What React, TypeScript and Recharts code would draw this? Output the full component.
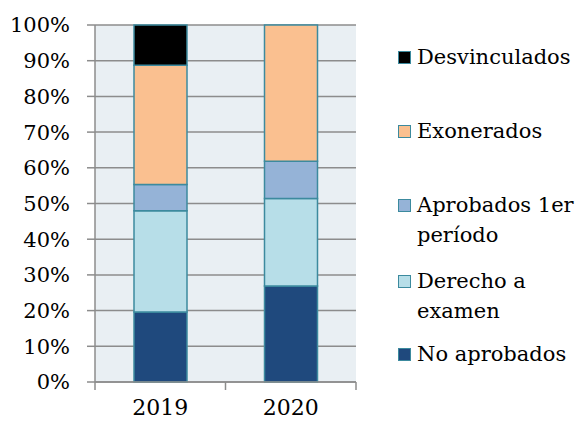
import React from "react";
import {
  BarChart,
  Bar,
  XAxis,
  YAxis,
  CartesianGrid,
} from "recharts";

// Años
const years = ["2019", "2020"];

// Porcentajes por situación (de abajo hacia arriba en la pila)
const noAprobados = [19.6, 26.9];
const derechoExamen = [28.4, 24.5];
const aprobados1er = [7.3, 10.4];
const exonerados = [33.4, 38.2];
const desvinculados = [11.3, 0];

const yTicks = [0, 10, 20, 30, 40, 50, 60, 70, 80, 90, 100];

const series = [
  { key: "noAprobados", name: "No aprobados", color: "#1F497D", values: noAprobados },
  { key: "derecho", name: "Derecho a examen", color: "#B7DEE8", values: derechoExamen },
  { key: "aprobados", name: "Aprobados 1er período", color: "#95B3D7", values: aprobados1er },
  { key: "exonerados", name: "Exonerados", color: "#FAC090", values: exonerados },
  { key: "desvinculados", name: "Desvinculados", color: "#000000", values: desvinculados },
];

const data = years.map((y, i) => {
  const row: any = { name: y };
  series.forEach((s) => {
    row[s.key] = s.values[i];
  });
  return row;
});

const FONT = "'DejaVu Serif', serif";
const BORDER = "#3C8A9E";
const GRID = "#8C8C8C";

const W = 577;
const H = 426;
const margin = { top: 25, right: 221, bottom: 0, left: 0 };
const yAxisWidth = 95;
const xAxisHeight = 44;
const plotWidth = W - margin.left - margin.right - yAxisWidth;
const halfBand = plotWidth / years.length / 2;

// etiquetas del eje X con marcas entre categorías
const YearTick = (props: any) => {
  const { x, y, payload, index } = props;
  return (
    <g>
      {index === 0 && (
        <line x1={x - halfBand} x2={x - halfBand} y1={y - 8} y2={y} stroke={GRID} strokeWidth={1.5} />
      )}
      <line x1={x + halfBand} x2={x + halfBand} y1={y - 8} y2={y} stroke={GRID} strokeWidth={1.5} />
      <text x={x} y={y} dy={25} textAnchor="middle" fill="#000" fontSize={22} fontFamily={FONT}>
        {payload.value}
      </text>
    </g>
  );
};

// leyenda en orden inverso (de arriba hacia abajo)
const legendItems = [
  { name: "Desvinculados", lines: ["Desvinculados"], color: "#000000", top: 42 },
  { name: "Exonerados", lines: ["Exonerados"], color: "#FAC090", top: 116 },
  { name: "Aprobados", lines: ["Aprobados 1er", "período"], color: "#95B3D7", top: 190 },
  { name: "Derecho", lines: ["Derecho a", "examen"], color: "#B7DEE8", top: 266 },
  { name: "No aprobados", lines: ["No aprobados"], color: "#1F497D", top: 339 },
];

const SideLegend = () => (
  <div style={{ position: "absolute", left: 398, top: 0, width: 179, height: H, fontFamily: FONT, fontSize: 21 }}>
    {legendItems.map((it) => (
      <div key={it.name} style={{ position: "absolute", left: 0, top: it.top, display: "flex" }}>
        <div
          style={{
            width: 11,
            height: 11,
            marginTop: 9,
            marginRight: 6,
            background: it.color,
            border: `1.5px solid ${BORDER}`,
            flexShrink: 0,
          }}
        />
        <div style={{ lineHeight: "30px", color: "#000", whiteSpace: "nowrap" }}>
          {it.lines.map((l) => (
            <div key={l}>{l}</div>
          ))}
        </div>
      </div>
    ))}
  </div>
);

export default function App() {
  return (
    <div style={{ position: "absolute", left: 0, top: 0, width: W, height: H, background: "#fff" }}>
      <BarChart width={W} height={H} data={data} margin={margin} barSize={53}>
        <CartesianGrid
          vertical={false}
          stroke={GRID}
          strokeWidth={1.5}
          fill="#E9EFF3"
          fillOpacity={1}
        />
        <XAxis
          dataKey="name"
          height={xAxisHeight}
          axisLine={{ stroke: GRID, strokeWidth: 1.5 }}
          tickLine={false}
          tickSize={8}
          tickMargin={0}
          tick={<YearTick />}
          interval={0}
        />
        <YAxis
          domain={[0, 100]}
          ticks={yTicks}
          width={yAxisWidth}
          tickFormatter={(v) => `${v}%`}
          axisLine={{ stroke: GRID, strokeWidth: 1.5 }}
          tickLine={{ stroke: GRID, strokeWidth: 1.5 }}
          tickSize={8}
          tickMargin={17}
          tick={{ fill: "#000", fontSize: 21, fontFamily: FONT }}
          interval={0}
        />
        {series.map((s) => (
          <Bar
            key={s.key}
            dataKey={s.key}
            name={s.name}
            stackId="a"
            fill={s.color}
            stroke={BORDER}
            strokeWidth={1.5}
            isAnimationActive={false}
          />
        ))}
      </BarChart>
      <SideLegend />
    </div>
  );
}
